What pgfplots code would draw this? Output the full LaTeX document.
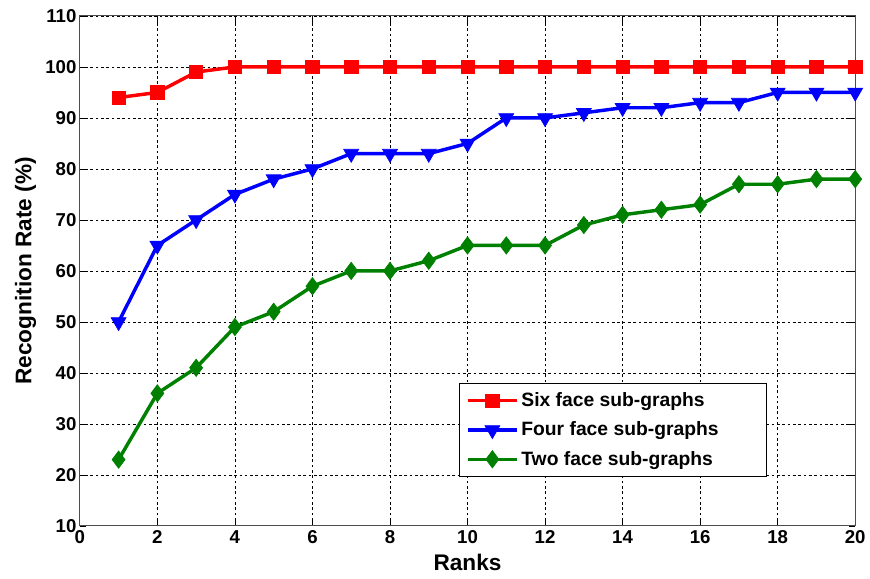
\documentclass[border=0pt]{standalone}
\usepackage{fontspec}
\setmainfont{Liberation Sans}
\usepackage{pgfplots}
\pgfplotsset{compat=1.18}
\definecolor{mgreen}{RGB}{0,128,0}
\begin{document}
\begin{tikzpicture}
\begin{axis}[
  scale only axis,
  width=582.75pt, height=383.25pt,
  xmin=0, xmax=20, ymin=10, ymax=110,
  xtick={0,2,...,20}, ytick={10,20,...,110},
  tick align=inside,
  tick style={black, line width=0.5pt},
  major tick length=5pt,
  axis line style={black!70, line width=0.8pt},
  grid=major,
  major grid style={black, line width=0.6pt, dash pattern=on 2pt off 2pt},
  /pgf/number format/assume math mode=true,
  ticklabel style={font=\fontsize{14}{16}\selectfont\bfseries},
  xticklabel style={yshift=0pt},
  yticklabel style={xshift=1pt},
  xlabel={Ranks}, ylabel={Recognition Rate (\%)},
  label style={font=\fontsize{17}{19}\selectfont\bfseries},
  xlabel style={yshift=-1pt},
  ylabel style={yshift=0pt},
  legend style={at={(0.489,0.096)}, anchor=south west, draw=black, line width=0.6pt,
    font=\fontsize{14.5}{16}\selectfont\bfseries, row sep=6pt, inner sep=5pt},
  legend cell align=left,
  legend image code/.code={\draw[#1] (0cm,0cm) -- (1.3cm,0cm); \draw[#1] plot coordinates {(0.65cm,0cm)};},
]
\addplot[red, line width=2.6pt, mark=square*, mark size=5pt, mark options={solid, line width=0.5pt}]
  coordinates {(1,94)(2,95)(3,99)(4,100)(5,100)(6,100)(7,100)(8,100)(9,100)(10,100)
  (11,100)(12,100)(13,100)(14,100)(15,100)(16,100)(17,100)(18,100)(19,100)(20,100)};
\addlegendentry{Six face sub-graphs}
\addplot[blue, line width=2.6pt, mark=triangle*, mark size=6.5pt, mark options={solid, rotate=180, line width=0.5pt}]
  coordinates {(1,50)(2,65)(3,70)(4,75)(5,78)(6,80)(7,83)(8,83)(9,83)(10,85)
  (11,90)(12,90)(13,91)(14,92)(15,92)(16,93)(17,93)(18,95)(19,95)(20,95)};
\addlegendentry{Four face sub-graphs\rule{29pt}{0pt}}
\addplot[mgreen, line width=2.6pt, mark=diamond*, mark size=6.5pt, mark options={solid, line width=0.5pt}]
  coordinates {(1,23)(2,36)(3,41)(4,49)(5,52)(6,57)(7,60)(8,60)(9,62)(10,65)
  (11,65)(12,65)(13,69)(14,71)(15,72)(16,73)(17,77)(18,77)(19,78)(20,78)};
\addlegendentry{Two face sub-graphs}
\end{axis}
\useasboundingbox (-60pt,-39.75pt) rectangle (592.5pt,395.25pt);
\end{tikzpicture}
\end{document}
